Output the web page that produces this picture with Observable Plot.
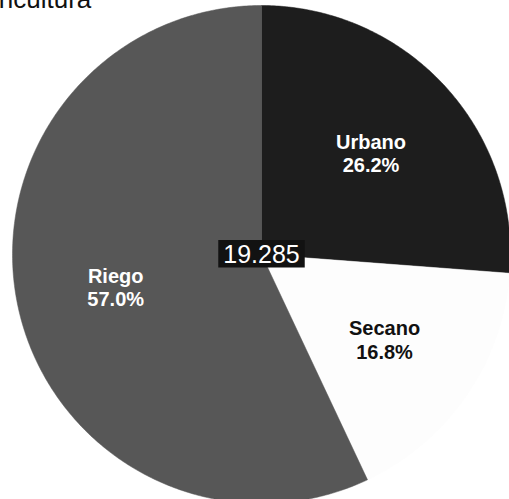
<!DOCTYPE html>
<html>
<head>
<meta charset="utf-8">
<script src="https://cdn.jsdelivr.net/npm/d3@7"></script>
<script src="https://cdn.jsdelivr.net/npm/@observablehq/plot@0.6"></script>
<style>
  html, body { margin: 0; padding: 0; background: #ffffff; overflow: hidden; }
  #wrap { position: relative; width: 509px; height: 499px; overflow: hidden; }
  #title { position: absolute; left: -33px; top: -14px; font-family: "Liberation Sans", Arial, sans-serif; font-size: 26px; line-height: 26px; color: #111; white-space: nowrap; z-index: 2; }
  svg { display: block; }
</style>
</head>
<body>
<div id="wrap"><div id="title"></div></div>
<script>
const titleText = "Agricultura";
const categories = ["Urbano", "Secano", "Riego"];
const shares = [26.2, 16.8, 57.0];
const sliceColors = ["#1d1d1d", "#fdfdfd", "#575757"];
const labelColors = ["#ffffff", "#111111", "#ffffff"];
const totalLabel = ["19.285"];

document.getElementById("title").textContent = titleText;

// geometry helpers (computed from data)
const total = d3.sum(shares);
let acc = 0;
const slices = categories.map((name, i) => {
  const a0 = acc / total * 2 * Math.PI;
  acc += shares[i];
  const a1 = acc / total * 2 * Math.PI;
  return {name, share: shares[i], a0, a1, color: sliceColors[i], textColor: labelColors[i]};
});

const points = [];
for (const s of slices) {
  points.push({name: s.name, color: s.color, x: 0, y: 0});
  const n = Math.max(2, Math.ceil((s.a1 - s.a0) / 0.01));
  for (let k = 0; k <= n; k++) {
    const a = s.a0 + (s.a1 - s.a0) * k / n;
    points.push({name: s.name, color: s.color, x: Math.sin(a), y: Math.cos(a)});
  }
  points.push({name: s.name, color: s.color, x: 0, y: 0});
}

const labelRadius = 0.6;
const labels = slices.map(s => {
  const m = (s.a0 + s.a1) / 2;
  return {text: s.name + "\n" + s.share.toFixed(1) + "%", color: s.textColor, x: Math.sin(m) * labelRadius, y: Math.cos(m) * labelRadius};
});

const W = 509, H = 499, cx = 261, cy = 254, R = 249;

const chart = Plot.plot({
  width: W,
  height: H,
  margin: 0,
  style: {background: "transparent", overflow: "visible"},
  x: {domain: [-cx / R, (W - cx) / R], range: [0, W], axis: null},
  y: {domain: [-(H - cy) / R, cy / R], range: [H, 0], axis: null},
  color: {type: "identity"},
  marks: [
    Plot.line(points, {x: "x", y: "y", z: "name", fill: "color", stroke: "color", strokeWidth: 0.5, curve: "linear"}),
    Plot.text(labels, {x: "x", y: "y", text: "text", fill: "color", fontSize: 20, fontWeight: "bold", lineHeight: 1.18, fontFamily: "Liberation Sans, Arial, sans-serif"}),
    Plot.text(totalLabel.map(t => ({t, x: 0, y: 0})), {x: "x", y: "y", text: "t", fill: "#ffffff", fontSize: 25, fontFamily: "Liberation Sans, Arial, sans-serif", className: "total-label"})
  ]
});

document.getElementById("wrap").appendChild(chart);

// dark box behind the total label
chart.querySelectorAll(".total-label text").forEach(t => {
  const b = t.getBBox();
  const r = document.createElementNS("http://www.w3.org/2000/svg", "rect");
  r.setAttribute("x", b.x - 5);
  r.setAttribute("y", b.y + 0.5);
  r.setAttribute("width", b.width + 10);
  r.setAttribute("height", b.height - 0.5);
  r.setAttribute("fill", "#121212");
  const tr = t.getAttribute("transform");
  if (tr) r.setAttribute("transform", tr);
  t.parentNode.insertBefore(r, t);
});
</script>
</body>
</html>
